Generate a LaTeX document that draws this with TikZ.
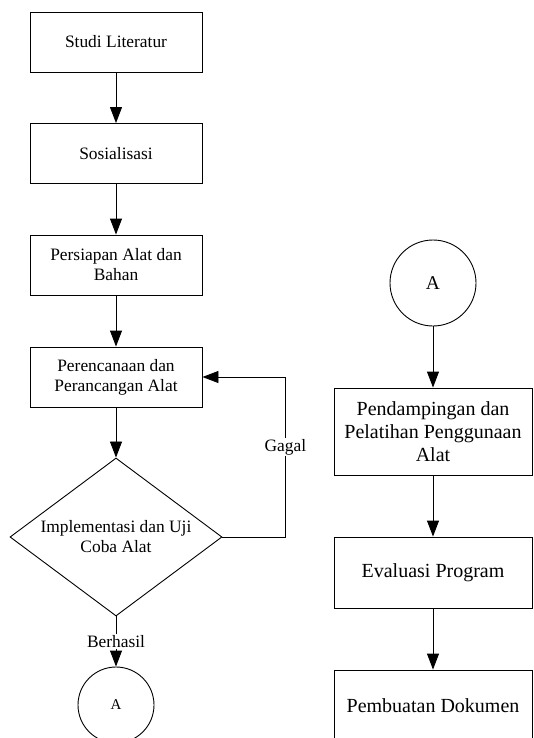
\documentclass[tikz,border=0pt]{standalone}
\usepackage{fontspec}
\setmainfont{Liberation Serif}
\usetikzlibrary{arrows.meta, shapes.geometric}

\begin{document}
\begin{tikzpicture}[x=1pt,y=-1pt,
  every node/.style={font=\fontsize{17.4}{20}\selectfont},
  box/.style={draw, line width=0.9pt, minimum width=172pt, minimum height=60pt, align=center, inner sep=0pt},
  bigbox/.style={box, minimum width=198pt, font=\fontsize{20}{23.3}\selectfont},
  decision/.style={draw, diamond, aspect=1.34, line width=0.9pt, minimum width=212pt, minimum height=158pt, inner sep=0pt, align=center},
  connector/.style={draw, circle, line width=0.9pt, minimum size=76pt, inner sep=0pt, font=\fontsize{15}{18}\selectfont},
  flow/.style={-{Triangle[length=16pt,width=12pt]}, line width=0.9pt},
  tag/.style={fill=white, inner sep=1pt}]
\useasboundingbox (0,0) rectangle (533,738);
\clip (0,0) rectangle (533,738);
% Left column
\node[box] (studi) at (116,42) {Studi Literatur};
\node[box] (sosial) at (116,153.5) {Sosialisasi};
\node[box] (persiapan) at (116,265) {Persiapan Alat dan\\Bahan};
\node[box] (rencana) at (116,377) {Perencanaan dan\\Perancangan Alat};
\node[decision] (uji) at (116,537) {Implementasi dan Uji\\Coba Alat};
\node[connector] (akiri) at (116,705) {A};
% Right column
\node[connector, minimum size=86pt, font=\fontsize{19.5}{22}\selectfont] (akanan) at (433,283) {A};
\node[bigbox, minimum height=87pt] (dampingan) at (433,431.5) {Pendampingan dan\\Pelatihan Penggunaan\\Alat};
\node[bigbox, minimum height=71pt] (evaluasi) at (433,572.5) {Evaluasi Program};
\node[bigbox, minimum height=71pt] (dokumen) at (433,705.5) {Pembuatan Dokumen};
% Arrows
\draw[flow] (studi) -- (sosial);
\draw[flow] (sosial) -- (persiapan);
\draw[flow] (persiapan) -- (rencana);
\draw[flow] (rencana) -- (uji);
\draw[flow] (uji) -- node[tag] {Berhasil} (akiri);
\draw[flow] (uji.east) -- ++(63,0) |- node[tag, pos=0.28] {Gagal} (rencana.east);
\draw[flow] (akanan) -- (dampingan);
\draw[flow] (dampingan) -- (evaluasi);
\draw[flow] (evaluasi) -- (dokumen);
\end{tikzpicture}
\end{document}
